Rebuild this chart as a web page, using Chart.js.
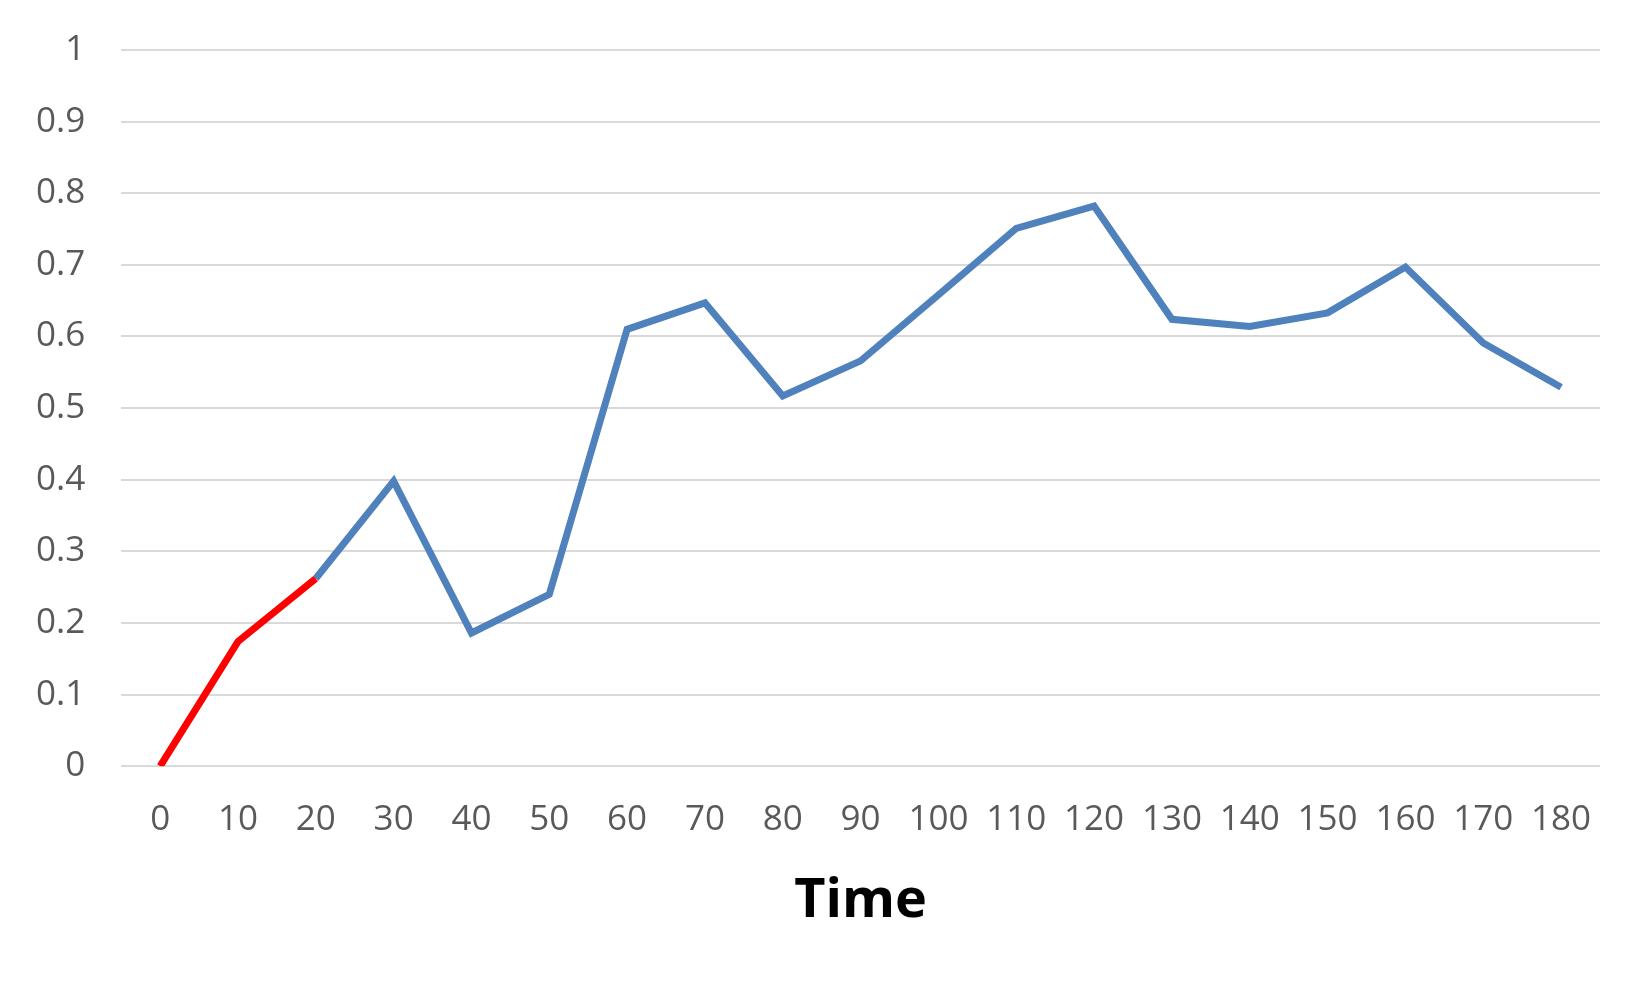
<!DOCTYPE html>
<html>
<head>
<meta charset="utf-8">
<script src="https://cdn.jsdelivr.net/npm/chart.js@4/dist/chart.umd.min.js"></script>
<style>
  html, body { margin: 0; padding: 0; background: #fff; }
  #wrap { width: 1650px; height: 990px; }
</style>
</head>
<body>
<div id="wrap"><canvas id="chart"></canvas></div>
<script>
// values
const times = [0, 10, 20, 30, 40, 50, 60, 70, 80, 90, 100, 110, 120, 130, 140, 150, 160, 170, 180];
const values = [0, 0.174, 0.262, 0.398, 0.186, 0.240, 0.610, 0.647, 0.517, 0.566, 0.658, 0.751, 0.782, 0.624, 0.614, 0.633, 0.697, 0.591, 0.529];
const redUntil = 2; // segments up to t=20 are red

const ctx = document.getElementById('chart').getContext('2d');
new Chart(ctx, {
  type: 'line',
  data: {
    labels: times,
    datasets: [{
      data: values,
      borderColor: '#4F81BD',
      borderWidth: 7,
      pointRadius: 0,
      tension: 0,
      segment: {
        borderColor: c => (c.p1DataIndex <= redUntil ? '#FF0000' : '#4F81BD'),
      },
    }],
  },
  options: {
    responsive: true,
    maintainAspectRatio: false,
    animation: false,
    layout: { padding: { top: 50, left: 0, right: 50, bottom: 52 } },
    plugins: {
      legend: { display: false },
      tooltip: { enabled: false },
    },
    scales: {
      x: {
        offset: true,
        grid: { display: false },
        border: { display: false },
        ticks: {
          color: '#595959',
          font: { family: 'Open Sans', size: 35 },
          padding: 25,
          maxRotation: 0,
          autoSkip: false,
        },
        title: {
          display: true,
          text: 'Time',
          color: '#000',
          font: { family: 'Open Sans', size: 54, weight: 'bold' },
          padding: { top: 3 },
        },
      },
      y: {
        min: 0,
        max: 1,
        afterFit: scale => { scale.paddingTop = 0; },
        ticks: {
          stepSize: 0.1,
          color: '#595959',
          font: { family: 'Open Sans', size: 35 },
          padding: 36,
          callback: v => String(Number(v.toFixed(1))),
        },
        grid: { color: '#d9d9d9', lineWidth: 2, drawTicks: false },
        border: { display: false },
      },
    },
  },
});
</script>
</body>
</html>
